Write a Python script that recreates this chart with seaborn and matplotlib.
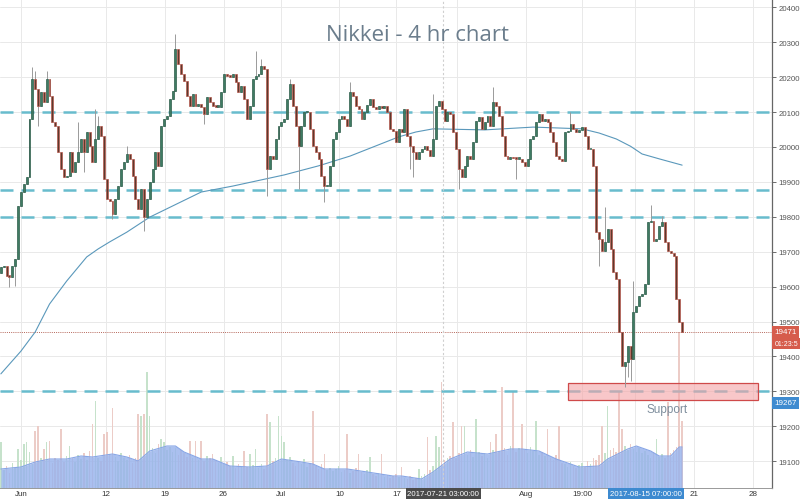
import numpy as np
import pandas as pd
import seaborn as sns
import matplotlib.pyplot as plt
from matplotlib.patches import Rectangle
from matplotlib.transforms import blended_transform_factory

# 4hr closes (each bar opens at the previous close)
first_open = 19640
closes = [
    19656, 19659, 19630, 19628, 19659, 19679, 19831, 19871, 19894, 19914,
    20080, 20195, 20166, 20117, 20158, 20129, 20195, 20146, 20072, 20060,
    19986, 19937, 19914, 19917, 19986, 19928, 19957, 19986, 20023, 19986,
    20043, 20003, 19957, 20023, 20060, 20032, 19908, 19851, 19845, 19808,
    19851, 19888, 19937, 19957, 19980, 19966, 19917, 19851, 19822, 19880,
    19799, 19851, 19900, 19937, 19986, 19946, 20060, 20080, 20089, 20138,
    20160, 20281, 20238, 20209, 20189, 20146, 20117, 20152, 20117, 20123,
    20115, 20095, 20143, 20129, 20117, 20115, 20115, 20158, 20209, 20203,
    20201, 20209, 20186, 20158, 20175, 20138, 20080, 20117, 20195, 20203,
    20209, 20232, 20223, 19937, 19974, 19966, 20023, 20060, 20072, 20080,
    20138, 20180, 20117, 20060, 20003, 20060, 20100, 20100, 20052, 20003,
    19985, 19966, 19917, 19888, 19888, 19946, 20023, 20043, 20080, 20089,
    20080, 20060, 20158, 20146, 20117, 20109, 20080, 20100, 20120, 20138,
    20115, 20109, 20117, 20112, 20117, 20100, 20052, 20046, 20014, 20052,
    20043, 20109, 20032, 20003, 19986, 19966, 19986, 19994, 20003, 19990,
    19974, 20023, 20117, 20132, 20109, 20074, 20100, 20095, 20043, 19994,
    19937, 19914, 19946, 19974, 19966, 20014, 20074, 20086, 20052, 20072,
    20089, 20060, 20129, 20117, 20089, 20032, 19974, 19966, 19971, 19968,
    19966, 19966, 19957, 19946, 19966, 20023, 20032, 20072, 20095, 20074,
    20080, 20072, 20043, 20014, 19974, 19965, 19960, 20043, 20046, 20066,
    20052, 20043, 20050, 20057, 20032, 19994, 19994, 19946, 19756, 19736,
    19702, 19728, 19765, 19708, 19642, 19622, 19470, 19373, 19384, 19430,
    19393, 19527, 19544, 19573, 19579, 19607, 19785, 19788, 19731, 19736,
    19774, 19785, 19728, 19702, 19695, 19688, 19565, 19499, 19471,
]

volumes = [
    46, 18, 22, 15, 25, 20, 39, 28, 44, 46,
    36, 24, 57, 62, 30, 39, 46, 47, 25, 30,
    28, 59, 26, 32, 42, 30, 26, 33, 29, 35,
    28, 37, 64, 87, 30, 27, 54, 56, 33, 80,
    31, 27, 35, 30, 28, 33, 25, 30, 74, 72,
    74, 116, 72, 40, 35, 44, 49, 46, 38, 41,
    36, 40, 33, 38, 35, 31, 47, 30, 47, 28,
    47, 27, 32, 30, 34, 28, 25, 31, 24, 26,
    22, 32, 20, 24, 22, 37, 21, 34, 23, 39,
    20, 24, 19, 74, 66, 27, 30, 72, 52, 46,
    28, 31, 25, 22, 27, 24, 29, 21, 25, 77,
    22, 19, 24, 34, 18, 20, 17, 19, 22, 16,
    18, 54, 15, 17, 20, 34, 16, 14, 18, 31,
    14, 12, 15, 34, 11, 13, 10, 12, 14, 11,
    21, 10, 9, 12, 8, 10, 19, 12, 14, 51,
    18, 22, 52, 41, 106, 28, 30, 32, 66, 30,
    35, 62, 62, 33, 38, 31, 69, 36, 32, 35,
    30, 46, 38, 54, 36, 101, 40, 33, 42, 96,
    36, 40, 64, 38, 35, 41, 37, 67, 33, 36,
    32, 59, 30, 28, 33, 62, 25, 24, 21, 26,
    22, 20, 23, 25, 21, 27, 24, 30, 28, 33,
    62, 35, 82, 38, 40, 36, 96, 59, 42, 38,
    44, 39, 36, 40, 35, 37, 33, 30, 36, 49,
    31, 34, 30, 86, 35, 38, 41, 156, 67,
]

# the longer wicks only
wick_highs = {11: 20229, 12: 20218, 16: 20218, 27: 20072, 33: 20109, 34: 20089,
              44: 20003, 61: 20324, 89: 20275, 91: 20252, 101: 20195,
              122: 20186, 151: 20152, 172: 20172, 199: 20100, 211: 19828,
              221: 19616, 227: 19834, 231: 19802}
wick_lows = {3: 19600, 5: 19602, 13: 20060, 29: 19928, 39: 19794, 50: 19760,
             71: 20066, 93: 19860, 104: 19880, 113: 19842, 143: 19937,
             144: 19914, 160: 19880, 180: 19908, 209: 19659, 218: 19312,
             219: 19340, 220: 19330}

# 200 bar moving average
ma_idx = [0, 7, 12, 17, 23, 30, 34, 38, 44, 52, 60, 70, 81, 99, 111, 122,
          139, 145, 151, 169, 186, 203, 209, 215, 220, 224, 230, 238]
ma_vals = [19350, 19415, 19470, 19550, 19616, 19685, 19708, 19728, 19756,
           19799, 19831, 19871, 19888, 19920, 19946, 19974, 20029, 20043,
           20052, 20049, 20057, 20052, 20040, 20023, 20002, 19980, 19966,
           19948]

# volume moving average
vol_ma_idx = [0, 7, 12, 17, 23, 28, 32, 39, 44, 48, 52, 58, 61, 64, 70, 74,
              80, 87, 93, 98, 105, 109, 113, 121, 128, 137, 140, 147, 151,
              157, 163, 170, 178, 182, 188, 194, 202, 209, 212, 219, 222,
              227, 230, 234, 237, 238]
vol_ma_vals = [19, 21, 26, 29, 29, 32, 31, 34, 31, 27, 37, 42, 42, 36, 29, 29,
               22, 21, 22, 29, 26, 24, 19, 19, 16, 12, 12, 9, 16, 29, 36, 34,
               39, 39, 37, 29, 21, 22, 29, 39, 42, 37, 32, 32, 41, 41]

levels = [20100, 19878, 19800, 19300]
last_price = 19471
countdown_price = 19438
support_price = 19267
support_zone = (19275, 19324)

tick_pos = [7, 36.6, 57.2, 77.8, 98, 118.3, 138.2, 159.5, 183.5, 203.1, 221.6, 242.1, 262.7]
tick_labels = ["Jun", "12", "19", "26", "Jul", "10", "17", "", "Aug", "19:00", "", "21", "28"]
cross_idx = 154.6
sel_idx = 225.4

df = pd.DataFrame({"close": closes, "volume": volumes})
df["open"] = df["close"].shift(1).fillna(first_open)
df["up"] = df["close"] >= df["open"]
df["high"] = df[["open", "close"]].max(axis=1)
df["low"] = df[["open", "close"]].min(axis=1)
for k, v in wick_highs.items():
    df.loc[k, "high"] = v
for k, v in wick_lows.items():
    df.loc[k, "low"] = v

sns.set_theme(style="white")
plt.rcParams["font.family"] = ["Liberation Sans", "DejaVu Sans"]

fig = plt.figure(figsize=(8, 5.02), dpi=100)
ax = fig.add_axes([0, 13 / 502, 772 / 800, 489 / 502])
ax2 = ax.twinx()
ax.set_zorder(2)
ax.patch.set_visible(False)
ax2.set_zorder(1)

# volume
vol_colors = np.where(df["up"], "#c6e2cb", "#ecccc7")
ax2.bar(df.index, df["volume"], width=0.55, color=vol_colors, linewidth=0)
ax2.fill_between(vol_ma_idx, 0, vol_ma_vals, color="#98b3ec", alpha=0.82, linewidth=0)
ax2.plot(vol_ma_idx, vol_ma_vals, color="#88a6e6", lw=0.8)
ax2.set_ylim(0, 489)
ax2.set_yticks([])
for s in ax2.spines.values():
    s.set_visible(False)

# grid
for p in tick_pos:
    ax2.axvline(p, color="#e9e9e9", lw=0.7, zorder=0)
for y in range(19100, 20500, 100):
    ax2.axhline((y - 19023) / 1401 * 489, color="#e9e9e9", lw=0.7, zorder=0)
ax.axvline(cross_idx, color="#cfcfcf", lw=0.8, ls=(0, (2, 2)))

# levels
for lvl in levels:
    ax.axhline(lvl, color="#68bccd", lw=1.8, ls=(0, (5.2, 3.2)), zorder=1)
ax.axhline(last_price, color="#b5665a", lw=0.7, ls=(0, (1, 1.2)), zorder=1)

# support zone
ax.add_patch(Rectangle((198.2, support_zone[0]), 66.3, support_zone[1] - support_zone[0],
                       facecolor="#f4a3a6", alpha=0.6, edgecolor="none", zorder=3))
ax.add_patch(Rectangle((198.2, support_zone[0]), 66.3, support_zone[1] - support_zone[0],
                       facecolor="none", edgecolor="#cf4a4a", lw=0.9, zorder=3))
ax.text(232.7, 19249, "Support", color="#7e8e9d", fontsize=8.5, ha="center", va="center")

# moving average
sns.lineplot(x=ma_idx, y=ma_vals, ax=ax, color="#5a98bb", lw=0.8, zorder=2)

# candles
ax.vlines(df.index, df["low"], df["high"], color="#9a9a9a", lw=0.7, zorder=3)
body = (df["close"] - df["open"]).abs().clip(lower=4)
ax.bar(df.index, body, bottom=df[["open", "close"]].min(axis=1), width=0.68,
       color=np.where(df["up"], "#3f7b63", "#5c3a2c"),
       edgecolor=np.where(df["up"], "#2d5c4a", "#b9594f"), linewidth=0.5, zorder=4)

ax.set_xlim(-0.3, 269.4)
ax.set_ylim(19023, 20424)
ax.set_ylabel("")
ax.set_xticks(tick_pos)
ax.set_xticklabels(tick_labels)
ax.tick_params(axis="x", length=0, pad=1.5, labelsize=5.8, colors="#333333")
ax.yaxis.tick_right()
ax.set_yticks(range(19100, 20500, 100))
ax.tick_params(axis="y", length=3, width=0.6, pad=1.5, labelsize=5.6,
               colors="#555555", right=True, left=False)
for s in ["top", "left"]:
    ax.spines[s].set_visible(False)
ax.spines["right"].set_color("#666666")
ax.spines["right"].set_linewidth(0.9)
ax.spines["bottom"].set_color("#999999")
ax.spines["bottom"].set_linewidth(0.7)

# price tags on the right scale
tr = blended_transform_factory(ax.transAxes, ax.transData)
for price, txt, fc, fs in [(last_price, "19471", "#d65c4c", 5.8),
                           (countdown_price, "01:23:5", "#d65c4c", 5.0),
                           (support_price, "19267", "#3f8bd0", 5.8)]:
    ax.text(1.003, price, txt, transform=tr, fontsize=fs, color="white",
            ha="left", va="center", clip_on=False,
            bbox=dict(boxstyle="square,pad=0.3", fc=fc, ec="none"))

# time tags under the axis
trx = blended_transform_factory(ax.transData, ax.transAxes)
ax.text(cross_idx, -0.004, "2017-07-21 03:00:00", transform=trx, fontsize=5.6,
        color="white", ha="center", va="top", clip_on=False,
        bbox=dict(boxstyle="square,pad=0.25", fc="#4b4b4b", ec="none"))
ax.text(sel_idx, -0.004, "2017-08-15 07:00:00", transform=trx, fontsize=5.6,
        color="white", ha="center", va="top", clip_on=False,
        bbox=dict(boxstyle="square,pad=0.25", fc="#3d8ad0", ec="none"))

fig.text(0.5225, 0.930, "Nikkei - 4 hr chart", fontsize=16, color="#6b7d8c",
         ha="center", va="center", family=["Open Sans", "DejaVu Sans"])

fig.savefig("out.png", dpi=100)
